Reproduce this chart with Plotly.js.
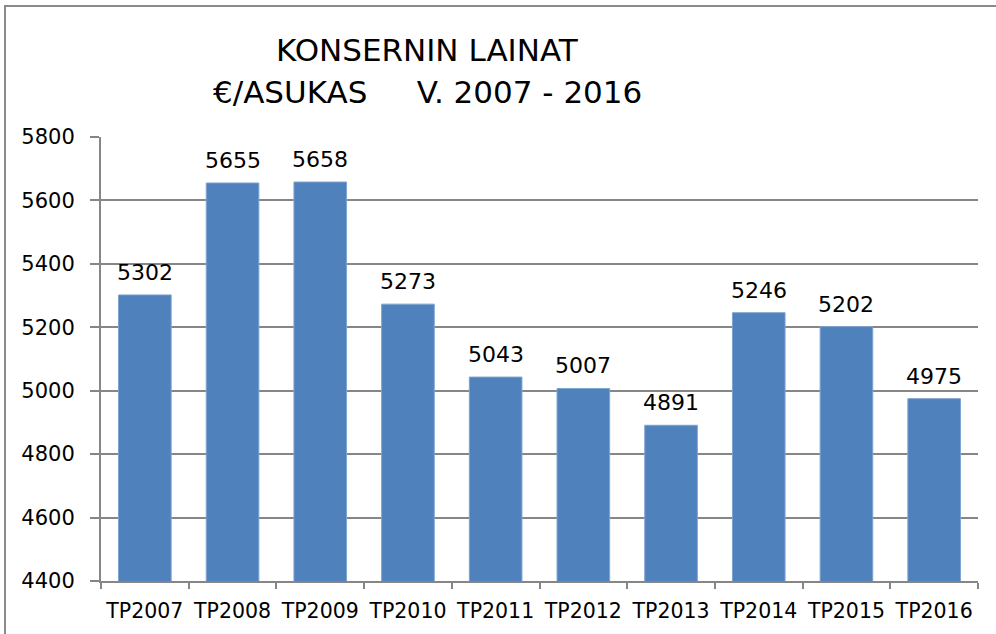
<!DOCTYPE html>
<html>
<head>
<meta charset="utf-8">
<script src="https://cdn.plot.ly/plotly-3.0.1.min.js"></script>
<style>
html,body{margin:0;padding:0;width:996px;height:634px;overflow:hidden;background:#fff;}
#frame{position:absolute;left:4px;top:5px;width:1010px;height:650px;border:2px solid #8a8a8a;box-sizing:border-box;}
#chart{position:absolute;left:0;top:0;width:996px;height:634px;}
</style>
</head>
<body>
<div id="frame"></div>
<div id="chart"></div>
<script>
const categories = ["TP2007","TP2008","TP2009","TP2010","TP2011","TP2012","TP2013","TP2014","TP2015","TP2016"];
const values = [5302,5655,5658,5273,5043,5007,4891,5246,5202,4975];
const yTicks = [4400,4600,4800,5000,5200,5400,5600,5800];
const titleLines = ["KONSERNIN LAINAT", "€/ASUKAS\u00A0\u00A0\u00A0\u00A0\u00A0V. 2007 - 2016"];

const font = "DejaVu Sans, Verdana, sans-serif";
const trace = {
  type: "bar",
  x: categories,
  y: values,
  marker: {color: "#4F81BD", line: {color: "#7FA3D0", width: 1}},
  hoverinfo: "x+y"
};

const labelAnnotations = categories.map((c, i) => ({
  x: c, y: values[i], xref: "x", yref: "y",
  text: String(values[i]), showarrow: false,
  xanchor: "center", yanchor: "bottom", yshift: 8,
  font: {family: font, size: 22, color: "#000"}
}));

const titleAnnotations = titleLines.map((t, i) => ({
  x: 0.372, y: 1, xref: "paper", yref: "paper",
  text: t, showarrow: false,
  xanchor: "center", yanchor: "middle", yshift: i === 0 ? 87 : 45,
  font: {family: font, size: 31, color: "#000"}
}));

const layout = {
  width: 996, height: 634,
  paper_bgcolor: "rgba(0,0,0,0)",
  plot_bgcolor: "#fff",
  margin: {l: 101, r: 18, t: 137, b: 53, pad: 0},
  bargap: 0.4,
  showlegend: false,
  font: {family: font, color: "#000"},
  annotations: titleAnnotations.concat(labelAnnotations),
  xaxis: {
    type: "category",
    showline: true, linecolor: "#868686", linewidth: 2,
    ticks: "outside", tickson: "boundaries", ticklen: 6, tickcolor: "#868686", tickwidth: 2,
    tickfont: {family: font, size: 20.5, color: "#000"},
    tickangle: 0,
    ticklabelstandoff: 10,
    showgrid: false
  },
  yaxis: {
    range: [4400, 5800],
    tickvals: yTicks,
    ticktext: yTicks.map(String),
    showline: true, linecolor: "#868686", linewidth: 2,
    ticks: "outside", ticklen: 9, tickcolor: "#868686", tickwidth: 2,
    gridcolor: "#868686", gridwidth: 2,
    zeroline: false,
    tickfont: {family: font, size: 21, color: "#000"},
    ticklabelstandoff: 11
  }
};
Plotly.newPlot("chart", [trace], layout, {displayModeBar: false, staticPlot: true});
</script>
</body>
</html>
